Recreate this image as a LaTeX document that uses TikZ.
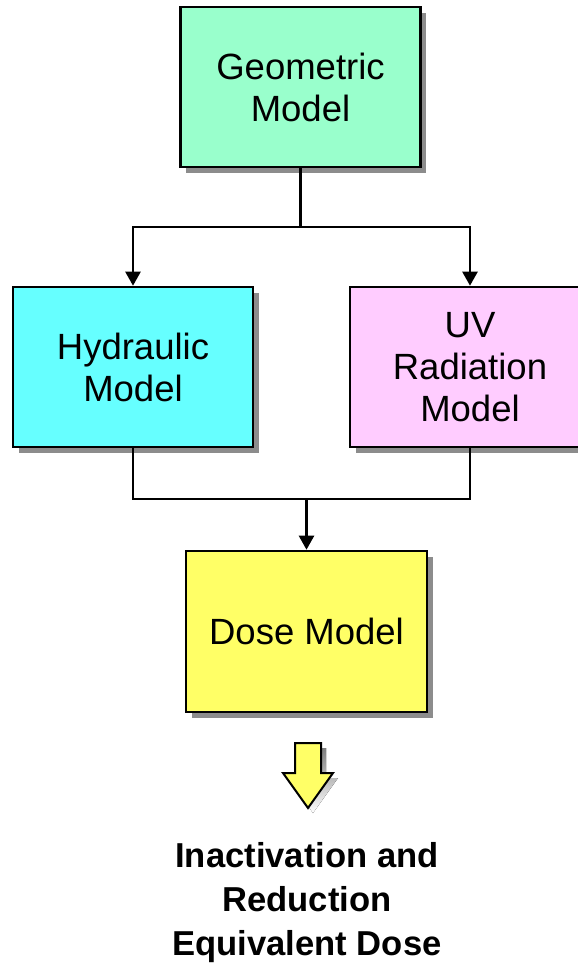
\documentclass[tikz,border=0pt]{standalone}
\usepackage{fontspec}
\setmainfont{Liberation Sans}
\usetikzlibrary{arrows.meta,shadows}
\definecolor{mint}{HTML}{99FFCC}
\definecolor{cyanb}{HTML}{66FFFF}
\definecolor{pinkb}{HTML}{FFCCFF}
\definecolor{yellowb}{HTML}{FFFF66}
\definecolor{shade}{HTML}{8C8C8C}
\tikzset{
  modelbox/.style={draw=black, line width=2.6pt, rectangle, align=center,
    minimum width=240pt, minimum height=160pt, inner sep=0pt,
    font=\fontsize{36.5}{42}\selectfont,
    drop shadow={shadow xshift=5.5pt, shadow yshift=-5.5pt, fill=shade, opacity=1}},
  conn/.style={draw=black, line width=2.4pt},
  arr/.style={conn, -{Triangle[width=15pt,length=14pt]}},
}
\begin{document}
\begin{tikzpicture}[x=1pt,y=-1pt]
\path[use as bounding box] (0,0) rectangle (578,967);
\clip (0,0) rectangle (578,967);
\node[modelbox, fill=mint] (geo) at (300.5,87) {Geometric\\Model};
\node[modelbox, fill=cyanb] (hyd) at (133,367) {Hydraulic\\Model};
\node[modelbox, fill=pinkb] (uv) at (470,367) {UV\\Radiation\\Model};
\node[modelbox, fill=yellowb, minimum width=241pt, minimum height=161pt] (dose) at (306.5,631.5) {Dose Model};
\coordinate (j1) at (300.5,227);
\coordinate (j2) at (306.5,499);
\draw[conn] (geo.south) -- (j1);
\draw[arr] (j1) -| (hyd.north);
\draw[arr] (j1) -| (uv.north);
\draw[conn] (hyd.south) |- (j2);
\draw[conn] (uv.south) |- (j2);
\draw[arr] (j2) -- (dose.north);
% block arrow
\fill[shade, shift={(5,5)}] (295,743) -- (321,743) -- (321,773) -- (333,773) -- (308,808) -- (283,773) -- (295,773) -- cycle;
\draw[fill=yellowb, line width=2pt, line join=miter] (295,743) -- (321,743) -- (321,773) -- (333,773) -- (308,808) -- (283,773) -- (295,773) -- cycle;
\node[align=center, font=\bfseries\fontsize{34.6}{44}\selectfont] (res) at (307,903) {Inactivation and\\Reduction\\Equivalent Dose};
\end{tikzpicture}
\end{document}
